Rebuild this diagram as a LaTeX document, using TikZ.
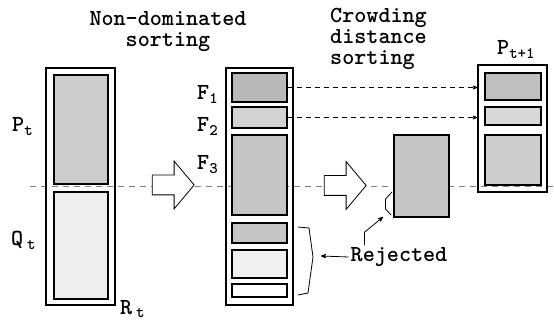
\documentclass[tikz,border=0pt]{standalone}
\usepackage{fontspec}
\setmonofont{lmmono10-regular.otf}[BoldFont=lmmonolt10-bold.otf]
\usepackage{tikz}
\usetikzlibrary{shapes,arrows,fit,positioning}

\begin{document}
\begin{tikzpicture}[x=1pt,y=-1pt,
    font=\ttfamily\bfseries\fontsize{23}{21}\selectfont,
    pool/.style={draw,line width=1.1pt,inner sep=0,minimum width=#1},
    front/.style={draw,line width=1.1pt,inner sep=0,minimum width=55pt},
    label/.style={inner sep=0,anchor=base west},
    bigarrow/.style={single arrow,draw,line width=0.8pt,fill=white,inner xsep=0,
        inner ysep=9.5pt,minimum height=42pt,single arrow head extend=14pt,
        single arrow tip angle=100},
    copyline/.style={->,>=stealth',dashed,dash pattern=on 5pt off 4pt,line width=0.7pt}]
\useasboundingbox (0,0) rectangle (554,320);

% dividing line between P_t and Q_t
\coordinate (cutL) at (30,186);
\coordinate (cutR) at (554,186);
\draw[gray,dashed,dash pattern=on 6pt off 5pt,line width=0.8pt] (cutL) -- (cutR);

% R_t
\node[pool=69pt,minimum height=237pt] (R) at (80.5,186.5) {};
\node[front,minimum width=54pt,minimum height=109pt,fill=gray!40] (P) at (81,129.5) {};
\node[front,minimum width=54pt,minimum height=107pt,fill=gray!13] (Q) at (81,245.5) {};
\node[label] (Plab) at (12,132) {P\textsubscript{t}};
\node[label] (Qlab) at (11,246) {Q\,\textsubscript{t}};
\node[label] (Rlab) at (120,314) {R\,\textsubscript{t}};

\node[align=center,anchor=north,inner sep=0] (nds) at (168,11) {Non-dominated\\sorting};
\node[bigarrow] (arr1) at (169,185) {};

% fronts
\node[pool=67pt,minimum height=237pt] (F) at (259.5,186.5) {};
\node[front,minimum height=29pt,fill=gray!55] (F1) at (259.5,87.5) {};
\node[front,minimum height=21pt,fill=gray!35] (F2) at (259.5,117.5) {};
\node[front,minimum height=80pt,fill=gray!45] (F3) at (259.5,175) {};
\node[front,minimum height=20pt,fill=gray!45] (F4) at (259.5,233) {};
\node[front,minimum height=28pt,fill=gray!12] (F5) at (259.5,264) {};
\node[front,minimum height=13pt,fill=white] (F6) at (259.5,290.5) {};
\node[label] (F1lab) at (197,100) {F\textsubscript{1}};
\node[label] (F2lab) at (197,132) {F\textsubscript{2}};
\node[label] (F3lab) at (197,170) {F\textsubscript{3}};

\node[align=left,anchor=north west,inner sep=0] (cds) at (330,8) {Crowding\\distance\\sorting};
\node[bigarrow] (arr2) at (341,185.5) {};
\node[front,minimum height=82pt,fill=gray!45] (crowd) at (421.5,176) {};

% P_{t+1}
\node[pool=69pt,minimum height=127pt] (Pnext) at (512.5,128.5) {};
\node[front,minimum width=56pt,minimum height=27pt,fill=gray!50] (N1) at (513,86.5) {};
\node[front,minimum width=56pt,minimum height=18pt,fill=gray!30] (N2) at (513,116) {};
\node[front,minimum width=56pt,minimum height=50pt,fill=gray!40] (N3) at (513,160) {};
\node[label] (Pnlab) at (497,55) {P\textsubscript{t+1}};

\draw[copyline] (F1.east) -- (F1.east -| Pnext.west);
\draw[copyline] (F2.east) -- (F2.east -| Pnext.west);

% rejected
\node[inner sep=2pt] (rej) at (399,257) {Rejected};
\coordinate (smallbr) at (383,217);
\coordinate (bigbr) at (321,256);
\draw[line width=0.8pt] (392,192) -- (385.5,199) -- (385.5,209) -- (391,215);
\draw[line width=0.8pt] (298,227) -- (309,228) -- (313,257) -- (308,293) -- (298,295);
\draw[->,>=stealth',line width=0.8pt] ([xshift=16pt]rej.north west) -- ++(0,-13) -- (smallbr);
\draw[->,>=stealth',line width=0.8pt] (rej.west) -- (bigbr);
\end{tikzpicture}
\end{document}
